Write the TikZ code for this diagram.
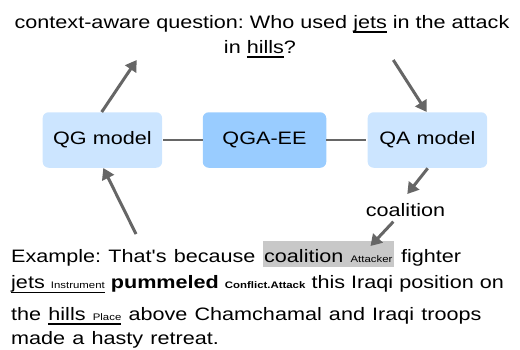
\documentclass[tikz,border=0pt]{standalone}
\usepackage{fontspec}
\setmainfont{Liberation Sans}[FakeStretch=1.2]
\newfontfamily\plainsans{Liberation Sans}[FakeStretch=1.2]
\usetikzlibrary{arrows.meta}
\definecolor{boxlight}{HTML}{CCE5FF}
\definecolor{boxmid}{HTML}{99CCFF}
\definecolor{linegray}{HTML}{666666}
\definecolor{hlgray}{HTML}{C8C8C8}
\frenchspacing
\newcommand\myul[1]{\setbox0\hbox{#1}\rlap{\rule[-4.6pt]{\wd0}{1.4pt}}\box0\relax}
\newcommand\mysmall[1]{{\fontsize{9.5}{10}\selectfont #1}}
\newcommand\exspace{\spaceskip=7.2pt\relax}
\newcommand\exspacenarrow{\spaceskip=6.1pt\relax}
\tikzset{
  txt/.style={inner sep=0pt, font=\fontsize{18}{22}\selectfont},
  extxt/.style={txt, anchor=base west},
  model/.style={txt, rounded corners=6pt, minimum width=119.5pt, minimum height=55.5pt},
  conn/.style={draw=linegray, line width=2pt},
  arr/.style={draw=linegray, fill=linegray, line width=3pt, -{Triangle[length=11pt,width=13pt]}},
}
\begin{document}
\begin{tikzpicture}[x=1pt,y=-1pt]
\useasboundingbox (0,0) rectangle (520,349);
% title
\node[txt, anchor=base] (t1) at (262,28) {context-aware question: Who used \myul{jets} in the attack};
\node[txt, anchor=base] (t2) at (260,53) {in \myul{hills}?};
% boxes
\node[model, fill=boxlight] (qg) at (102.4,140) {QG model};
\node[model, fill=boxmid, minimum width=123.5pt] (qgaee) at (264.5,140) {QGA-EE};
\node[model, fill=boxlight] (qa) at (427.4,140) {QA model};
\draw[conn] ([xshift=1pt]qg.east) -- (qgaee.west);
\draw[conn] (qgaee.east) -- ([xshift=-1pt]qa.west);
% coalition
\node[txt, anchor=base] (coal) at (405.5,216.7) {coalition};
% example lines
\node[extxt] (e1) at (11,262) {\exspace Example: That{\plainsans'}s because {\fboxsep=0pt\colorbox{hlgray}{\rule[-4.6pt]{0pt}{25.5pt}\hspace{1.5pt}coalition \mysmall{Attacker}\hspace{1.5pt}}} fighter};
\node[extxt] (e2) at (11,288.3) {\exspacenarrow\myul{jets \mysmall{Instrument}} \textbf{pummeled} \mysmall{\textbf{Conflict.Attack}} this Iraqi position on};
\node[extxt] (e3) at (11,320) {\exspace the \myul{hills \mysmall{Place}} above Chamchamal and Iraqi troops};
\node[extxt] (e4) at (11,344.5) {\exspace made a hasty retreat.};
% arrow coordinates
\coordinate (a1s) at (101.7,112);
\coordinate (a1e) at (136.7,60);
\coordinate (a2s) at (393.3,60);
\coordinate (a2e) at (426.7,112);
\coordinate (a3s) at (136,234);
\coordinate (a3e) at (103.3,168);
\coordinate (a4s) at (427.7,168.3);
\coordinate (a4e) at (407.3,194);
\coordinate (a5s) at (393.3,221.7);
\coordinate (a5e) at (370.5,246);
\draw[arr] (a1s) -- (a1e);
\draw[arr] (a2s) -- (a2e);
\draw[arr] (a3s) -- (a3e);
\draw[arr] (a4s) -- (a4e);
\draw[arr] (a5s) -- (a5e);
\end{tikzpicture}
\end{document}
